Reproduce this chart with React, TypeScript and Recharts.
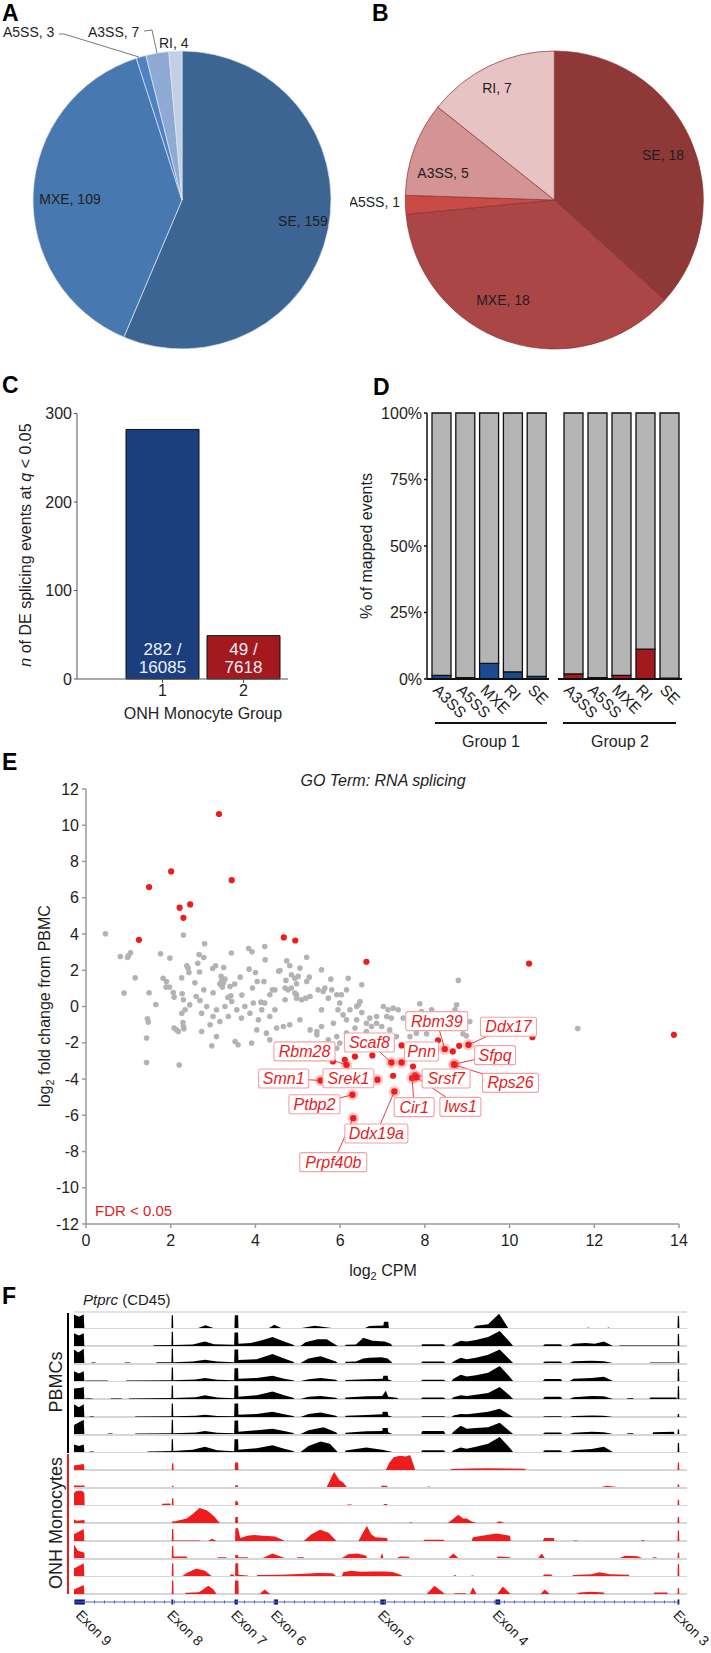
import React from "react";
import {
  PieChart, Pie, Cell, BarChart, Bar, XAxis, YAxis, LabelList,
  ScatterChart, Scatter, AreaChart, Area, LineChart, Line, ReferenceArea,
} from "recharts";

const FONT = "'Liberation Sans', Arial, Helvetica, sans-serif";

// A / B: DE splicing events by type
const eventTypes = ["SE", "MXE", "A5SS", "A3SS", "RI"];
const group1Events = [159, 109, 3, 7, 4];
const group2Events = [18, 18, 1, 5, 7];

// C: DE splicing events per monocyte group
const monocyteGroups = ["1", "2"];
const deEvents = [282, 49];
const testedEvents = [16085, 7618];
const cTicks = [0, 100, 200, 300];

// D: % of mapped events that are DE
const mappedTypes = ["A3SS", "A5SS", "MXE", "RI", "SE"];
const group1Pct = [1.4, 0.5, 5.9, 2.7, 1.0];
const group2Pct = [1.9, 0.5, 1.4, 11.2, 0.3];
const pctTicks = [0, 25, 50, 75, 100];

// E: GO term RNA splicing, log2 CPM vs log2 FC
const xTicksE = [0, 2, 4, 6, 8, 10, 12, 14];
const yTicksE = [-12, -10, -8, -6, -4, -2, 0, 2, 4, 6, 8, 10, 12];
const otherGenes = [
  [0.46, 4.01], [0.81, 2.76], [1.0, 2.8], [1.05, 2.96], [0.98, 2.7], [1.16, 1.58], [0.9, 0.74], [1.49, 0.76],
  [1.65, 0.11], [1.76, 2.91], [1.98, 2.67], [2.3, 3.94], [1.82, 1.56], [1.9, 1.38], [1.89, 1.07], [1.97, 1.07],
  [2.06, 0.77], [2.08, 0.52], [2.26, 1.58], [2.27, 0.7], [2.38, 2.25], [2.41, 2.12], [2.43, 1.88], [2.57, 1.31],
  [2.64, 2.39], [2.68, 1.9], [2.67, 2.87], [2.78, 2.7], [2.8, 3.46], [2.6, 0.55], [2.69, 0.33], [2.78, 0.92],
  [2.99, 2.1], [3.06, 2.25], [3.0, 0.76], [3.25, 2.15], [3.19, 1.66], [3.2, 1.38], [3.24, 1.29], [3.28, 1.51],
  [3.16, 1.24], [3.22, 1.07], [3.4, 1.1], [3.42, 0.59], [3.35, 0.5], [3.44, 0.28], [3.43, 2.95], [3.51, 1.24],
  [3.64, 1.62], [3.68, 0.63], [3.84, 3.2], [3.92, 3.02], [3.85, 2.06], [4.0, 1.88], [4.04, 1.38], [4.22, 3.31],
  [4.23, 2.58], [4.2, 1.38], [3.93, 1.02], [4.13, 0.24], [4.34, 0.65], [4.4, 0.92], [4.55, 1.95],
  [4.7, 0.37], [4.77, 0.92], [4.93, 0.74], [4.97, 0.46], [5.01, 1.66], [5.21, 1.38], [5.29, 0.55], [5.56, 2.03],
  [5.56, -0.18], [5.6, 0.83], [5.72, 0.46], [5.92, 0.65], [5.99, 0.19], [6.07, -0.46], [6.15, -0.73], [6.19, 1.56],
  [6.23, -0.18], [6.39, 0], [6.47, 0.28], [6.51, 1.2], [6.62, -0.92], [6.7, -0.64], [6.86, -0.92], [7.02, 0],
  [7.13, -0.18], [7.21, -0.64],
  [2.14, -1.29], [2.3, -1.1], [2.73, -1.38], [2.93, -1.01], [3.08, -1.66], [2.97, -2.17], [3.52, -1.93], [3.59, -2.11],
  [3.91, -2.02], [4.03, -1.29], [4.26, -1.47], [4.34, -1.84], [4.5, -1.19], [4.66, -1.1], [4.81, -1.01], [5.05, -0.73],
  [5.29, -1.29], [5.45, -1.56], [5.56, -1.1], [5.84, -0.92], [5.92, -1.66], [6.39, -0.73], [2.2, -3.23], [2.26, -0.37],
  [2.3, 0.37],
  [4.74, 2.52], [4.81, 2.25], [5.21, 2.72], [5.05, 2.12], [4.58, 1.99], [4.72, 1.44], [4.85, 1.75], [4.93, 1.56],
  [4.97, 1.25], [5.27, 1.62], [5.78, 1.51], [4.7, 1.02], [4.46, 0.92], [4.85, 1.02], [4.97, 0.65], [5.09, 0.37],
  [5.19, 0.46], [5.48, 0.92], [5.64, 1.02], [5.8, 0.92], [6.03, 0.65], [6.15, 0.92], [5.95, -0.18], [6.43, 0.09],
  [6.51, -0.33], [6.74, -1.1], [6.86, -0.55], [7.25, -0.09], [7.37, -0.18], [7.49, -0.64], [7.1, -0.55], [6.98, -1.1],
  [7.17, -1.29], [7.33, -1.66], [7.88, 0.15], [7.92, -0.28], [8.16, -0.18], [8.2, -0.64], [8.75, 0.09], [8.79, 1.44],
  [8.71, -0.18], [9.06, -0.83], [8.9, -1.51], [8.98, -1.62], [5.45, -1.38], [5.72, -1.84], [6.15, -1.47], [6.35, -1.19],
  [6.47, -1.66], [6.62, -1.38], [5.99, -2.02], [5.92, -2.3], [7.65, -1.66], [7.8, -1.47], [8.04, -1.51],
  [1.45, -0.68], [1.47, -0.86], [1.43, -1.74], [1.43, -3.09], [2.08, -1.19], [2.31, -1.23], [2.18, -1.38], [2.29, -0.88],
  [11.61, -1.21],
  [2.34, -0.18], [2.45, 0.09], [2.73, -0.37], [2.85, 0], [3.0, -0.55], [3.08, -0.18], [3.16, -0.83], [3.28, 0],
  [3.36, -0.55], [3.56, -0.18], [3.67, -0.64], [3.75, 0], [3.87, -0.37], [3.95, 0.19], [4.07, -0.73], [4.15, -0.18],
  [4.22, 0.19], [4.34, -0.55], [4.46, -0.18],
];
const fdrGenes = [
  [3.14, 10.62], [1.49, 6.59], [2.01, 7.45], [3.44, 6.97], [2.21, 5.45], [2.46, 5.63], [2.3, 4.89], [1.25, 3.68],
  [4.67, 3.81], [4.94, 3.64], [6.62, 2.47], [10.46, 2.37], [13.88, -1.56], [5.83, -3.03], [6.11, -2.94], [6.35, -2.76],
  [6.76, -2.7], [7.25, -3.82], [7.72, -3.31], [8.66, -2.48], [8.81, -2.17], [10.54, -1.69], [8.31, -1.87], [7.45, -2.15],
];
const namedGenes = ["Rbm39", "Ddx17", "Rbm28", "Scaf8", "Pnn", "Sfpq", "Smn1", "Srek1", "Srsf7", "Rps26", "Ptbp2", "Cir1", "Iws1", "Ddx19a", "Prpf40b"];
const namedCpm = [8.47, 9.03, 6.15, 7.21, 7.45, 8.69, 5.54, 6.88, 7.77, 8.7, 6.29, 7.7, 7.8, 7.28, 6.31];
const namedLogFC = [-2.35, -2.11, -3.22, -3.09, -3.09, -3.18, -4.08, -4.04, -3.81, -3.22, -4.87, -3.95, -3.91, -4.69, -6.16];

// F: Ptprc coverage, x = position 0..100 along the locus, y = relative coverage
const exonNames = ["Exon 9", "Exon 8", "Exon 7", "Exon 6", "Exon 5", "Exon 4", "Exon 3"];
const exonStart = [0.1, 16.0, 26.4, 32.8, 50.3, 69.2, 99.1];
const exonEnd = [1.8, 16.3, 26.9, 33.5, 51.2, 70.0, 99.4];
const exonLabelAt = [1.15, 16.15, 26.65, 33.15, 50.75, 69.6, 99.25];
const intronSpan = [0, 99.4];

const pbmcTracks = [
  [0, 0, 0, 0.9, 0.8, 0.75, 1.6, 0.9, 1.7, 0, 16.0, 0, 16.05, 0.85, 16.25, 0.85, 16.3, 0, 20.4, 0, 21.6, 0.18, 22.9, 0,
    26.35, 0, 26.4, 0.85, 26.95, 0.85, 27.0, 0, 32.0, 0, 32.9, 0.22, 34.0, 0, 37.4, 0, 39.5, 0.15, 42.3, 0,
    47.8, 0, 48.5, 0.14, 50.8, 0.17, 50.9, 0.42, 51.6, 0.42, 51.7, 0, 65.6, 0, 66, 0.15, 68, 0.25, 69.8, 0.95, 71.3, 0,
    84.3, 0, 84.4, 0.04, 84.7, 0, 87.6, 0, 87.7, 0.04, 88.0, 0, 99.1, 0, 99.15, 0.8, 99.35, 0.8, 99.4, 0],
  [0, 0, 0, 0.85, 0.8, 0.7, 1.6, 0.85, 1.7, 0, 13.0, 0, 13.1, 0.05, 16.0, 0.06, 16.05, 0.95, 16.25, 0.95, 16.3, 0.07,
    19.5, 0.1, 21.5, 0.3, 23, 0.12, 26.3, 0.08, 26.35, 0.9, 26.95, 0.9, 27.0, 0.15, 29, 0.2, 31, 0.4, 32.6, 0.6,
    34.5, 0.3, 36, 0.08, 36.2, 0, 37.2, 0, 38, 0.25, 40, 0.45, 41.5, 0.45, 43.3, 0, 44.5, 0, 44.6, 0.08, 46.3, 0.1,
    47.5, 0.55, 49, 0.35, 51, 0.3, 52, 0.15, 52.3, 0, 57, 0, 57.2, 0.12, 60.7, 0.12, 61, 0, 62, 0, 62.3, 0.12,
    63.5, 0.35, 64.5, 0.3, 66, 0.4, 68, 0.6, 69.9, 1.0, 71.5, 0.3, 72.1, 0, 77, 0, 77.3, 0.12, 79.9, 0.12, 80.2, 0,
    81.4, 0, 82, 0.15, 84, 0.2, 85.5, 0.15, 87, 0.3, 88.5, 0, 89.5, 0, 89.6, 0.04, 98.9, 0.04, 99.0, 0,
    99.1, 0, 99.15, 0.8, 99.35, 0.8, 99.4, 0],
  [0, 0, 0, 0.9, 0.7, 0.7, 1.6, 0.95, 1.7, 0, 2.8, 0, 2.9, 0.04, 3.5, 0.04, 3.6, 0, 8.3, 0, 8.4, 0.04, 9.2, 0.04, 9.3, 0,
    13.5, 0, 13.6, 0.05, 16.0, 0.05, 16.05, 0.95, 16.25, 0.95, 16.3, 0.05, 19.5, 0.1, 21.5, 0.22, 23.5, 0.1,
    26.3, 0.05, 26.35, 0.9, 26.95, 0.9, 27.0, 0.2, 30, 0.25, 32.6, 0.6, 34.5, 0.3, 36, 0.08, 36.2, 0, 37.2, 0,
    38.5, 0.3, 40.5, 0.45, 43, 0.1, 43.3, 0, 44.5, 0, 44.6, 0.08, 46.3, 0.1, 47.5, 0.3, 48.5, 0.35, 50.5, 0.38,
    51.5, 0.3, 52.3, 0, 57, 0, 57.2, 0.1, 60.7, 0.1, 61, 0, 62, 0, 62.3, 0.1, 63.5, 0.35, 64.5, 0.25, 66, 0.35,
    68, 0.55, 69.9, 0.9, 71.5, 0.25, 72.1, 0, 77, 0, 77.3, 0.1, 79.9, 0.1, 80.2, 0, 81.4, 0, 82, 0.12, 85, 0.15,
    87, 0.12, 88.5, 0, 94.5, 0, 94.6, 0.04, 98.9, 0.04, 99.0, 0, 99.1, 0, 99.15, 0.8, 99.35, 0.8, 99.4, 0],
  [0, 0, 0, 0.65, 0.8, 0.5, 1.6, 0.65, 1.7, 0, 1.8, 0, 1.9, 0.03, 5.5, 0.03, 5.6, 0, 8.5, 0, 8.6, 0.03, 16.0, 0.05,
    16.05, 0.9, 16.25, 0.9, 16.3, 0.05, 20, 0.1, 21.5, 0.2, 23.5, 0.08, 26.3, 0.05, 26.35, 0.85, 26.95, 0.85,
    27.0, 0.15, 30, 0.2, 32.6, 0.35, 34.5, 0.15, 36, 0.05, 36.2, 0, 37.2, 0, 38.5, 0.12, 40.5, 0.2, 43, 0.08, 43.3, 0,
    44.5, 0, 44.6, 0.06, 48, 0.12, 50.7, 0.15, 50.8, 0.35, 51.5, 0.35, 51.6, 0.1, 52.3, 0, 57, 0, 57.2, 0.08,
    60.7, 0.08, 61, 0, 62, 0, 62.3, 0.15, 63.5, 0.42, 64.5, 0.3, 66, 0.38, 68, 0.55, 69.9, 1.0, 71.5, 0.3, 72.1, 0,
    77, 0, 77.3, 0.13, 79.9, 0.13, 80.2, 0, 81.4, 0, 82, 0.15, 85, 0.2, 87, 0.28, 88.5, 0, 99.1, 0, 99.15, 0.8,
    99.35, 0.8, 99.4, 0],
  [0, 0, 0, 0.7, 1.2, 0.75, 1.6, 0.8, 1.7, 0, 1.8, 0, 1.9, 0.03, 3, 0.03, 3.1, 0, 6, 0, 6.1, 0.03, 7.8, 0.03, 7.9, 0,
    9, 0, 9.1, 0.04, 16.0, 0.06, 16.05, 0.9, 16.25, 0.9, 16.3, 0.06, 20, 0.12, 21.5, 0.25, 23.5, 0.1, 26.3, 0.05,
    26.35, 0.9, 26.95, 0.9, 27.0, 0.15, 30, 0.25, 32.6, 0.5, 34.5, 0.25, 36, 0.08, 36.2, 0, 37.2, 0, 38.5, 0.15,
    40.5, 0.2, 43, 0.08, 43.3, 0, 44.5, 0, 44.6, 0.1, 48, 0.18, 50.6, 0.2, 51.2, 0.55, 51.6, 0.15, 53, 0.08, 53.3, 0,
    57, 0, 57.2, 0.1, 60.7, 0.1, 61, 0, 62, 0, 62.3, 0.12, 63.5, 0.25, 64.5, 0.2, 66, 0.28, 68, 0.4, 69.9, 0.8,
    71.5, 0.25, 72.1, 0, 77, 0, 77.3, 0.15, 79.9, 0.15, 80.2, 0, 81.4, 0, 82, 0.12, 85, 0.2, 87, 0.18, 88.5, 0,
    90.8, 0, 90.9, 0.05, 91.8, 0.05, 91.9, 0, 94.5, 0, 94.6, 0.1, 98.9, 0.1, 99.0, 0, 99.1, 0, 99.15, 0.85,
    99.35, 0.85, 99.4, 0],
  [0, 0, 0, 0.85, 0.8, 0.65, 1.6, 0.85, 1.7, 0, 2.5, 0, 2.6, 0.03, 3.2, 0.03, 3.3, 0, 10, 0, 10.1, 0.04, 16.0, 0.05,
    16.05, 0.9, 16.25, 0.9, 16.3, 0.05, 20, 0.08, 21.5, 0.15, 23.5, 0.07, 26.3, 0.05, 26.35, 0.9, 26.95, 0.9,
    27.0, 0.15, 30, 0.2, 32.6, 0.35, 34.5, 0.18, 36, 0.06, 36.2, 0, 37.2, 0, 38.5, 0.2, 40.5, 0.3, 43, 0.08, 43.3, 0,
    44.5, 0, 44.6, 0.08, 48, 0.14, 50.6, 0.18, 50.7, 0.35, 51.5, 0.35, 51.6, 0.1, 52.3, 0, 57, 0, 57.2, 0.05,
    60.7, 0.05, 61, 0, 62, 0, 62.3, 0.1, 63.5, 0.2, 64.5, 0.18, 66, 0.25, 68, 0.35, 69.9, 0.55, 71.5, 0.15, 72.1, 0,
    77, 0, 77.3, 0.05, 79.9, 0.05, 80.2, 0, 81.4, 0, 82, 0.06, 85, 0.1, 87, 0.08, 88.5, 0, 99.1, 0, 99.15, 0.2,
    99.35, 0.2, 99.4, 0],
  [0, 0, 0, 0.6, 1.6, 0.95, 1.7, 0, 5.5, 0, 5.6, 0.03, 6.3, 0.03, 6.4, 0, 10, 0, 10.1, 0.04, 16.0, 0.05, 16.05, 0.95,
    16.25, 0.95, 16.3, 0.05, 20, 0.1, 21.5, 0.2, 23.5, 0.08, 26.3, 0.05, 26.35, 0.9, 26.95, 0.9, 27.0, 0.15, 30, 0.25,
    32.6, 0.35, 34.5, 0.2, 36, 0.06, 36.2, 0, 37.2, 0, 38.5, 0.25, 41, 0.45, 43, 0.12, 43.3, 0, 44.5, 0, 44.6, 0.08,
    48, 0.18, 50.6, 0.2, 50.7, 0.4, 51.5, 0.4, 51.6, 0.12, 52.3, 0, 57, 0, 57.2, 0.2, 60.7, 0.2, 61, 0, 62, 0,
    62.3, 0.15, 63.5, 0.55, 64.5, 0.35, 66, 0.4, 68, 0.45, 69.9, 0.75, 71.5, 0.2, 72.1, 0, 77, 0, 77.3, 0.1, 79.9, 0.1,
    80.2, 0, 81.4, 0, 82, 0.08, 85, 0.15, 87, 0.12, 88.5, 0, 90.8, 0, 90.9, 0.05, 91.8, 0.05, 91.9, 0, 95, 0,
    95.1, 0.12, 98.5, 0.15, 98.6, 0, 99.1, 0, 99.15, 0.3, 99.35, 0.3, 99.4, 0],
  [0, 0, 0, 0.5, 0.8, 0.4, 1.6, 0.5, 1.7, 0, 2.5, 0, 2.6, 0.03, 3.2, 0.03, 3.3, 0, 12, 0, 12.1, 0.04, 16.0, 0.06,
    16.05, 0.85, 16.25, 0.85, 16.3, 0.06, 19.5, 0.15, 21.5, 0.35, 23.5, 0.12, 26.3, 0.05, 26.35, 0.85, 26.95, 0.85,
    27.0, 0.15, 30, 0.25, 32.6, 0.45, 34.5, 0.22, 36, 0.06, 36.2, 0, 37.2, 0, 38.5, 0.4, 40.5, 0.7, 42, 0.55, 43.3, 0,
    44.5, 0, 44.6, 0.1, 48, 0.3, 50.6, 0.15, 52.3, 0, 57, 0, 57.2, 0.12, 60.7, 0.12, 61, 0, 62, 0, 62.3, 0.12,
    63.5, 0.3, 64.5, 0.22, 66, 0.35, 68, 0.55, 69.9, 1.0, 71.5, 0.3, 72.1, 0, 77, 0, 77.3, 0.12, 79.9, 0.12, 80.2, 0,
    81.4, 0, 82, 0.12, 85, 0.2, 87, 0.35, 88.5, 0, 99.1, 0, 99.15, 0.6, 99.35, 0.6, 99.4, 0],
];

const onhTracks = [
  [0, 0, 0, 0.3, 1.6, 0.4, 1.7, 0, 16.05, 0, 16.1, 0.45, 16.3, 0.45, 16.35, 0, 26.4, 0, 26.45, 0.5, 26.95, 0.5, 27, 0,
    51.2, 0, 51.8, 0.5, 52.5, 0.85, 53.5, 0.95, 54.5, 0.9, 55.2, 1.0, 55.8, 0.3, 56, 0, 61.8, 0, 62, 0.06, 65, 0.1,
    68, 0.12, 71, 0.1, 74, 0.08, 74.2, 0, 99.1, 0, 99.15, 0.5, 99.35, 0.5, 99.4, 0],
  [0, 0, 0, 0.1, 1.7, 0.1, 1.75, 0, 16.05, 0, 16.1, 0.08, 16.3, 0.08, 16.35, 0, 26.45, 0, 26.5, 0.12, 26.9, 0.12,
    26.95, 0, 41.5, 0, 42.7, 1.0, 43.6, 0.45, 44.2, 0.3, 44.8, 0, 50.4, 0, 50.5, 0.08, 51.4, 0.08, 51.5, 0, 58.0, 0,
    58.1, 0.04, 58.4, 0.04, 58.5, 0, 86.6, 0, 87.5, 0.08, 89.2, 0, 99.1, 0, 99.15, 0.18, 99.35, 0.18, 99.4, 0],
  [0, 0, 0, 0.8, 0.4, 0.95, 1.3, 0.95, 1.7, 0.8, 1.75, 0, 14.4, 0, 14.5, 0.08, 15.8, 0.1, 15.9, 0, 16.05, 0, 16.1, 0.45,
    16.3, 0.45, 16.35, 0, 26.45, 0, 26.5, 0.3, 26.9, 0.2, 27, 0, 44.8, 0, 44.9, 0.04, 45.6, 0.04, 45.7, 0, 50.8, 0,
    50.9, 0.06, 51.4, 0.06, 51.5, 0, 99.1, 0, 99.15, 0.35, 99.35, 0.35, 99.4, 0],
  [0, 0, 0, 0.25, 0.4, 0.15, 1.7, 0.2, 1.75, 0, 16.05, 0, 16.1, 0.1, 16.3, 0.1, 16.6, 0.12, 18.5, 0.3, 19.5, 0.6,
    20.6, 1.0, 21.8, 0.85, 23, 0.45, 23.7, 0.1, 24, 0, 26.45, 0, 26.5, 0.4, 26.9, 0.4, 26.95, 0, 55.0, 0, 55.1, 0.03,
    55.5, 0.03, 55.6, 0, 61.4, 0, 62.5, 0.35, 63.1, 0.55, 63.9, 0.3, 64.5, 0.3, 65.2, 0.12, 66.1, 0, 69.3, 0,
    69.8, 0.12, 70.8, 0, 99.1, 0, 99.15, 0.4, 99.35, 0.4, 99.4, 0],
  [0, 0, 0, 0.45, 1.6, 0.8, 1.7, 0, 16.05, 0, 16.1, 0.8, 16.3, 0.8, 16.35, 0.04, 20.7, 0.04, 20.8, 0, 22, 0, 22.7, 0.15,
    23.4, 0, 26.45, 0, 26.5, 0.85, 26.95, 0.85, 27.3, 0.2, 28.5, 0.35, 29.5, 0.4, 31, 0.35, 33, 0.3, 34.4, 0.05,
    34.5, 0, 37.7, 0, 39, 0.45, 40.4, 0.75, 41.8, 0.55, 43.1, 0, 46.7, 0, 47.5, 0.6, 48.1, 1.0, 48.8, 0.45, 49.5, 0.25,
    51.4, 0.2, 51.5, 0, 57.4, 0, 57.5, 0.08, 60.7, 0.08, 60.8, 0, 65.3, 0, 65.5, 0.25, 67, 0.35, 69.4, 0.5, 71.6, 0.35,
    71.7, 0, 77.0, 0, 77.2, 0.2, 78.8, 0.2, 78.9, 0, 82.0, 0, 82.1, 0.04, 82.6, 0.04, 82.7, 0, 93.1, 0, 93.2, 0.05,
    93.6, 0.05, 93.7, 0, 99.1, 0, 99.15, 0.7, 99.35, 0.7, 99.4, 0],
  [0, 0, 0, 0.9, 0.6, 0.5, 1.7, 0.35, 1.75, 0, 16.05, 0, 16.1, 0.8, 16.3, 0.8, 16.35, 0.1, 18.5, 0.1, 18.6, 0,
    23.5, 0, 23.6, 0.05, 25, 0.05, 25.1, 0, 26.45, 0, 26.5, 0.2, 26.9, 0.2, 27, 0.05, 28.5, 0.05, 28.6, 0, 31, 0,
    32.6, 0.3, 34.6, 0, 36.6, 0, 36.7, 0.05, 37.7, 0.05, 37.8, 0, 44, 0, 45, 0.25, 46.5, 0.3, 48, 0.15, 48.1, 0,
    50.3, 0, 50.6, 0.35, 50.8, 0, 53, 0, 53.5, 0.1, 55, 0.08, 55.1, 0, 61.5, 0, 62.3, 0.3, 63.1, 0, 69.4, 0,
    69.6, 0.1, 71.6, 0.05, 71.7, 0, 76.2, 0, 76.8, 0.3, 77.3, 0, 89.6, 0, 90.5, 0.15, 92.5, 0.12, 93.3, 0, 95, 0,
    95.1, 0.05, 95.6, 0.05, 95.7, 0, 99.1, 0, 99.15, 0.35, 99.35, 0.35, 99.4, 0],
  [0, 0, 0, 0.5, 1.6, 0.85, 1.7, 0, 16.05, 0, 16.1, 0.85, 16.3, 0.85, 16.35, 0, 17.8, 0, 18.5, 0.2, 20.1, 0.5,
    21.5, 0.35, 22.6, 0, 25.6, 0, 25.7, 0.1, 26.2, 0.1, 26.3, 0, 26.45, 0, 26.5, 0.85, 26.95, 0.85, 27.0, 0.08,
    28.5, 0.04, 28.6, 0, 30, 0, 30.1, 0.06, 34, 0.08, 38, 0.15, 40, 0.2, 42.5, 0.18, 43, 0, 44, 0, 44.2, 0.25,
    45.5, 0.35, 47, 0.28, 49, 0.3, 51, 0.3, 52.5, 0.25, 53.8, 0.05, 53.9, 0, 62.3, 0, 62.4, 0.05, 62.7, 0.05, 62.8, 0,
    65.2, 0, 65.3, 0.04, 65.6, 0.04, 65.7, 0, 77, 0, 77.2, 0.1, 78.4, 0.1, 78.5, 0, 81.8, 0, 82, 0.06, 85, 0.12,
    86.3, 0.25, 88, 0.12, 91.1, 0.08, 91.2, 0, 99.1, 0, 99.15, 0.8, 99.35, 0.8, 99.4, 0],
  [0, 0, 0, 0.3, 1.6, 0.6, 1.7, 0, 16.05, 0, 16.1, 0.9, 16.3, 0.9, 16.35, 0, 18.2, 0, 18.4, 0.08, 20.5, 0.12,
    21.2, 0.3, 22.06, 0.55, 22.9, 0.3, 23.4, 0, 26.4, 0, 26.45, 0.9, 27.0, 0.9, 27.05, 0, 30.5, 0, 31.3, 0.3, 32.2, 0,
    57.9, 0, 59.2, 0.55, 60.9, 0, 62.4, 0, 62.5, 0.05, 64.3, 0.05, 64.4, 0, 65, 0, 65.5, 0.45, 66.1, 0, 69.5, 0,
    70.4, 0.5, 71.7, 0, 76.6, 0, 77.3, 0.3, 78.1, 0, 82.5, 0, 83, 0.1, 85, 0.15, 87, 0.1, 87.1, 0, 95.2, 0,
    95.3, 0.1, 97.4, 0.1, 97.5, 0, 99.1, 0, 99.15, 0.4, 99.35, 0.4, 99.4, 0],
];

// ---------- styling / layout (kept apart from the data)
const blueShades = ["#3d6594", "#4878b0", "#4f82c0", "#8ea9d2", "#c1cfe7"];
const redShades = ["#8e3938", "#aa4645", "#c84b46", "#d49495", "#e7c3c4"];
const pieLabelsA = [
  { x: 303, y: 226, a: "middle" }, { x: 70, y: 204, a: "middle" },
  { x: 3, y: 37, a: "start" }, { x: 88, y: 37, a: "start" }, { x: 159, y: 48, a: "start" },
];
const pieLabelsB = [
  { x: 313, y: 160, a: "middle" }, { x: 153, y: 305, a: "middle" },
  { x: 50, y: 207, a: "end" }, { x: 93, y: 178, a: "middle" }, { x: 147, y: 93, a: "middle" },
];
const geneLabelPos: Record<string, number[]> = {
  Rbm39: [-8, -28, 62], Ddx17: [40, -18, 56], Rbm28: [-42, -13.5, 61], Scaf8: [-22, -20, 50],
  Pnn: [20, -11, 34], Sfpq: [41, -9, 41], Smn1: [-37, -2, 50], Srek1: [-29, -1.5, 51],
  Srsf7: [31, 3, 48], Rps26: [56, 18, 56], Ptbp2: [-38, 9.5, 51], Cir1: [2, 29, 40],
  Iws1: [44, 29.5, 41], Ddx19a: [-18, 42, 63], Prpf40b: [-20, 44, 67],
};
const RED = "#ee1c1c";
const TRACK_LEFT = 74;
const TRACK_W = 609;
const TRACK_TOP = 1312;
const TRACK_PITCH = 17.72;
const TRACK_H = 16;

const txt = { fontFamily: FONT, fill: "#1e1e1e" } as const;

function toPts(flat: number[]) {
  const out: { x: number; y: number }[] = [];
  for (let i = 0; i < flat.length; i += 2) out.push({ x: flat[i], y: flat[i + 1] });
  return out;
}

function EventPie({ counts, colors, labels, stroke, left, cx }: any) {
  const data = eventTypes.map((t, i) => ({ name: t, value: counts[i] }));
  const renderLabel = (p: any) => {
    const l = labels[p.index];
    return (
      <text x={l.x} y={l.y} textAnchor={l.a} fontSize={14} {...txt}>
        {`${data[p.index].name}, ${data[p.index].value}`}
      </text>
    );
  };
  return (
    <div style={{ position: "absolute", left, top: 0 }}>
      <PieChart width={361} height={360} margin={{ top: 0, right: 0, bottom: 0, left: 0 }}>
        <Pie data={data} dataKey="value" cx={cx} cy={200} outerRadius={149} startAngle={90} endAngle={-270}
          stroke={stroke} strokeWidth={0.7} label={renderLabel} labelLine={false} isAnimationActive={false}>
          {data.map((_, i) => <Cell key={i} fill={colors[i]} />)}
        </Pie>
      </PieChart>
    </div>
  );
}

function DeBarLabel(p: any) {
  const { x, y, width, height, index } = p;
  const cxp = x + width / 2;
  const bottom = y + height;
  return (
    <text textAnchor="middle" fontSize={17} fontFamily={FONT} fill="#eef2f8">
      <tspan x={cxp} y={bottom - 24}>{`${deEvents[index]} /`}</tspan>
      <tspan x={cxp} y={bottom - 6}>{testedEvents[index]}</tspan>
    </text>
  );
}

function SlantTick(p: any) {
  const { x, payload } = p;
  const bx = x - 10;
  const by = 291;
  return (
    <text x={bx} y={by} transform={`rotate(45 ${bx} ${by})`} fontSize={15.5} {...txt}>{payload.value}</text>
  );
}

function MappedFacet({ pct, color, left, width, ml, mr, showY, pad }: any) {
  const data = mappedTypes.map((t, i) => ({ type: t, de: pct[i], rest: 100 - pct[i] }));
  return (
    <div style={{ position: "absolute", left, top: 400 }}>
      <BarChart width={width} height={330} data={data} margin={{ top: 13, right: mr, bottom: 21, left: ml }} barCategoryGap={0}>
        <XAxis dataKey="type" height={30} padding={pad} stroke="#111" strokeWidth={2} tickLine={false}
          interval={0} tick={<SlantTick />} />
        <YAxis hide={!showY} width={45} domain={[0, 100]} ticks={pctTicks} tickFormatter={(v: number) => `${v}%`}
          stroke="#111" strokeWidth={1.5} tickSize={3} tickMargin={2}
          tick={{ fontSize: 16, fill: "#1e1e1e", fontFamily: FONT }} />
        <Bar dataKey="de" stackId="s" fill={color} stroke="#111" strokeWidth={1.3} barSize={19} isAnimationActive={false} />
        <Bar dataKey="rest" stackId="s" fill="#b4b4b4" stroke="#111" strokeWidth={1.3} barSize={19} isAnimationActive={false} />
      </BarChart>
    </div>
  );
}

const GrayDot = (p: any) => <circle cx={p.cx} cy={p.cy} r={2.8} fill="#b3b3b3" />;
const RedDot = (p: any) => <circle cx={p.cx} cy={p.cy} r={3.1} fill={RED} />;
const NamedDot = (p: any) => {
  const [dx, dy] = geneLabelPos[p.payload.name];
  return (
    <g>
      <line x1={p.cx} y1={p.cy} x2={p.cx + dx} y2={p.cy + dy} stroke="#e8242a" strokeWidth={0.9} />
      <circle cx={p.cx} cy={p.cy} r={5.8} fill="#f0484d" fillOpacity={0.3} />
      <circle cx={p.cx} cy={p.cy} r={3.2} fill={RED} />
    </g>
  );
};
const NamedBox = (p: any) => {
  const [dx, dy, w] = geneLabelPos[p.payload.name];
  const bx = p.cx + dx;
  const by = p.cy + dy;
  return (
    <g>
      <rect x={bx - w / 2} y={by - 9.5} width={w} height={19} rx={2} fill="#fff" fillOpacity={0.93}
        stroke="#f3a2a5" strokeWidth={1.1} />
      <text x={bx} y={by + 5.6} textAnchor="middle" fontSize={16} fontStyle="italic" fontFamily={FONT} fill="#e51d23">
        {p.payload.name}
      </text>
    </g>
  );
};

function CoverageTrack({ flat, color, top }: any) {
  return (
    <div style={{ position: "absolute", left: TRACK_LEFT, top, width: TRACK_W, height: TRACK_H }}>
      <AreaChart width={TRACK_W} height={TRACK_H} data={toPts(flat)} margin={{ top: 1, right: 0, bottom: 0, left: 0 }}>
        <XAxis type="number" dataKey="x" domain={[0, 100]} hide />
        <YAxis type="number" domain={[0, 1]} hide allowDataOverflow />
        <Area type="linear" dataKey="y" stroke="none" fill={color} fillOpacity={1} isAnimationActive={false} />
      </AreaChart>
    </div>
  );
}

function ExonTick(p: any) {
  const { x, payload } = p;
  const i = exonLabelAt.indexOf(payload.value);
  const bx = x - 6;
  const by = 22;
  return (
    <text x={bx} y={by} transform={`rotate(45 ${bx} ${by})`} fontSize={14} {...txt}>{exonNames[i]}</text>
  );
}

export default function App() {
  const cData = monocyteGroups.map((g, i) => ({ group: g, n: deEvents[i] }));
  const grayData = otherGenes.map(([x, y]) => ({ x, y }));
  const redData = fdrGenes.map(([x, y]) => ({ x, y }));
  const namedData = namedGenes.map((name, i) => ({ name, x: namedCpm[i], y: namedLogFC[i] }));
  const intronData = intronSpan.map((x) => ({ x, y: 0.5 }));
  const allTracks = [
    ...pbmcTracks.map((t) => ({ flat: t, color: "#000" })),
    ...onhTracks.map((t) => ({ flat: t, color: RED })),
  ];
  const eAxisTick = { fontSize: 16, fill: "#1e1e1e", fontFamily: FONT };

  return (
    <div style={{ position: "absolute", left: 0, top: 0, width: 711, height: 1653, background: "#fff", fontFamily: FONT, overflow: "hidden" }}>
      {/* A, B */}
      <EventPie counts={group1Events} colors={blueShades} labels={pieLabelsA} stroke="#dfe7f2" left={0} cx={182} />
      <EventPie counts={group2Events} colors={redShades} labels={pieLabelsB} stroke="#8a3434" left={350} cx={204.3} />

      {/* C */}
      <div style={{ position: "absolute", left: 0, top: 400 }}>
        <BarChart width={300} height={330} data={cData} margin={{ top: 13.5, right: 12, bottom: 21, left: 37 }} barCategoryGap={0}>
          <XAxis dataKey="group" height={30} padding={{ left: 45, right: 4 }} tickSize={4} tickMargin={2} stroke="#555"
            tick={{ fontSize: 16, fill: "#1e1e1e", fontFamily: FONT }} />
          <YAxis width={40} domain={[0, 300]} ticks={cTicks} tickSize={3} tickMargin={2} stroke="#555"
            tick={{ fontSize: 16, fill: "#1e1e1e", fontFamily: FONT }} />
          <Bar dataKey="n" barSize={73} stroke="#111" strokeWidth={1} isAnimationActive={false}>
            {cData.map((_, i) => <Cell key={i} fill={i === 0 ? "#1b3e7e" : "#a3191d"} />)}
            <LabelList content={<DeBarLabel />} />
          </Bar>
        </BarChart>
      </div>

      {/* D */}
      <MappedFacet pct={group1Pct} color="#1c4a8e" left={360} width={200} ml={22} mr={11} showY pad={{ left: 3, right: 0 }} />
      <MappedFacet pct={group2Pct} color="#a3191d" left={550} width={161} ml={8} mr={29} showY={false} pad={{ left: 3, right: 1 }} />

      {/* E */}
      <div style={{ position: "absolute", left: 0, top: 760 }}>
        <ScatterChart width={711} height={500} margin={{ top: 29, right: 32, bottom: 16, left: 46 }}>
          <XAxis type="number" dataKey="x" domain={[0, 14]} ticks={xTicksE} height={20} stroke="#9a9a9a" strokeWidth={1.5}
            tickSize={4} tickMargin={7} tick={eAxisTick} allowDataOverflow />
          <YAxis type="number" dataKey="y" domain={[-12, 12]} ticks={yTicksE} width={40} stroke="#9a9a9a" strokeWidth={1.5}
            tickSize={4} tickMargin={3} tick={eAxisTick} allowDataOverflow />
          <Scatter data={grayData} shape={GrayDot} isAnimationActive={false} />
          <Scatter data={redData} shape={RedDot} isAnimationActive={false} />
          <Scatter data={namedData} shape={NamedDot} isAnimationActive={false} />
          <Scatter data={namedData} shape={NamedBox} isAnimationActive={false} />
        </ScatterChart>
      </div>

      {/* F tracks */}
      {allTracks.map((t, i) => (
        <div key={`sep${i}`} style={{ position: "absolute", left: TRACK_LEFT, top: TRACK_TOP + i * TRACK_PITCH + TRACK_H - 0.5, width: TRACK_W + 4, height: 1.8, background: "#d6d6d6" }} />
      ))}
      <div style={{ position: "absolute", left: TRACK_LEFT, top: TRACK_TOP - 1, width: TRACK_W + 4, height: 1.5, background: "#e2e2e2" }} />
      {allTracks.map((t, i) => (
        <CoverageTrack key={`tr${i}`} flat={t.flat} color={t.color} top={TRACK_TOP + i * TRACK_PITCH} />
      ))}
      <div style={{ position: "absolute", left: TRACK_LEFT, top: 1594 }}>
        <LineChart width={637} height={59} data={intronData} margin={{ top: 0, right: 28, bottom: 0, left: 0 }}>
          <XAxis type="number" dataKey="x" domain={[0, 100]} ticks={exonLabelAt} height={43} axisLine={false}
            tickLine={false} interval={0} tick={<ExonTick />} />
          <YAxis hide domain={[0, 1]} />
          <Line dataKey="y" stroke="#5062d4" strokeWidth={1} dot={false} isAnimationActive={false} />
          <Line dataKey="y" stroke="#5062d4" strokeWidth={3} strokeDasharray="1 9" dot={false} isAnimationActive={false} />
          {exonStart.map((s, i) => (
            <ReferenceArea key={i} x1={s} x2={exonEnd[i]} y1={0.34} y2={0.66} fill="#0c1a70" fillOpacity={1} stroke="none" ifOverflow="visible" />
          ))}
        </LineChart>
      </div>

      {/* annotations */}
      <svg width={711} height={1653} style={{ position: "absolute", left: 0, top: 0, pointerEvents: "none" }}>
        <g fontSize={23} fontWeight="bold" fontFamily={FONT} fill="#000">
          <text x={2} y={21}>A</text>
          <text x={372} y={21}>B</text>
          <text x={2} y={393}>C</text>
          <text x={373} y={395}>D</text>
          <text x={2} y={770}>E</text>
          <text x={2} y={1304}>F</text>
        </g>
        {/* pie A leader lines */}
        <polyline points="59,34 64,34 139,57" fill="none" stroke="#555" strokeWidth={0.8} />
        <polyline points="144,31 152,30 157,53" fill="none" stroke="#555" strokeWidth={0.8} />

        {/* C titles */}
        <text x={31} y={545} transform="rotate(-90 31 545)" textAnchor="middle" fontSize={16} {...txt}>
          <tspan fontStyle="italic">n</tspan> of DE splicing events at <tspan fontStyle="italic">q</tspan> {"< 0.05"}
        </text>
        <text x={203} y={719} textAnchor="middle" fontSize={16} {...txt}>ONH Monocyte Group</text>

        {/* D titles */}
        <text x={371.5} y={546} transform="rotate(-90 371.5 546)" textAnchor="middle" fontSize={16} {...txt}>% of mapped events</text>
        <line x1={435} y1={723} x2={547} y2={723} stroke="#111" strokeWidth={1.8} />
        <line x1={563} y1={723} x2={676} y2={723} stroke="#111" strokeWidth={1.8} />
        <text x={491} y={747} textAnchor="middle" fontSize={16} {...txt}>Group 1</text>
        <text x={620} y={747} textAnchor="middle" fontSize={16} {...txt}>Group 2</text>

        {/* E titles */}
        <text x={383} y={786} textAnchor="middle" fontSize={16} fontStyle="italic" {...txt}>GO Term: RNA splicing</text>
        <text x={49.5} y={1006} transform="rotate(-90 49.5 1006)" textAnchor="middle" fontSize={16} {...txt}>
          log<tspan fontSize={11} dy={4}>2</tspan><tspan dy={-4}> fold change from PBMC</tspan>
        </text>
        <text x={383} y={1276} textAnchor="middle" fontSize={16} {...txt}>
          log<tspan fontSize={11} dy={4}>2</tspan><tspan dy={-4}> CPM</tspan>
        </text>
        <text x={95} y={1216} fontSize={15} fontFamily={FONT} fill="#e51d23">{"FDR < 0.05"}</text>

        {/* F labels */}
        <text x={83} y={1305} fontSize={15} {...txt}><tspan fontStyle="italic">Ptprc</tspan> (CD45)</text>
        <line x1={68} y1={1313} x2={68} y2={1453} stroke="#000" strokeWidth={2} />
        <line x1={68} y1={1454} x2={68} y2={1594} stroke={RED} strokeWidth={2} />
        <text x={61.5} y={1382} transform="rotate(-90 61.5 1382)" textAnchor="middle" fontSize={18} {...txt}>PBMCs</text>
        <text x={61.5} y={1523} transform="rotate(-90 61.5 1523)" textAnchor="middle" fontSize={18} {...txt}>ONH Monocytes</text>
      </svg>
    </div>
  );
}
